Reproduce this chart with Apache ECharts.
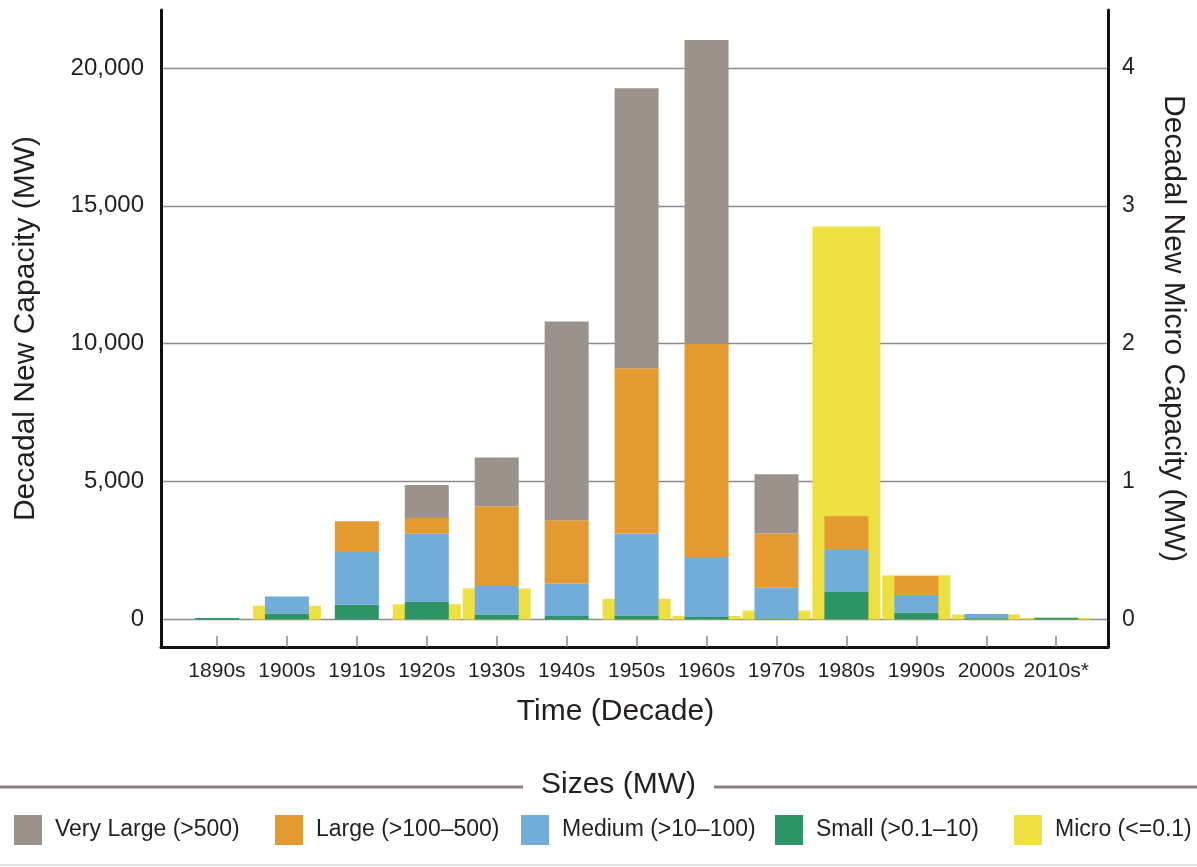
<!DOCTYPE html>
<html>
<head>
<meta charset="utf-8">
<script src="https://cdn.jsdelivr.net/npm/echarts@6/dist/echarts.min.js"></script>
<style>
html,body{margin:0;padding:0;background:#fff;}
#chart{width:1197px;height:867px;}
</style>
</head>
<body>
<div id="chart"></div>
<script>
const categories = ['1890s','1900s','1910s','1920s','1930s','1940s','1950s','1960s','1970s','1980s','1990s','2000s','2010s*'];
const veryLarge = [0, 0, 0, 1200, 1770, 7205, 10150, 11020, 2155, 0, 0, 0, 0];
const large     = [0, 0, 1115, 566, 2895, 2300, 5995, 7730, 1960, 1200, 676, 0, 0];
const medium    = [0, 630, 1915, 2460, 1040, 1177, 2980, 2178, 1122, 1551, 654, 153, 0];
const small     = [55, 205, 530, 650, 170, 120, 135, 85, 30, 990, 243, 40, 60];
const micro     = [0, 0.10, 0, 0.11, 0.225, 0, 0.15, 0.025, 0.065, 2.85, 0.32, 0.035, 0.01];
const leftTicks = [0, 5000, 10000, 15000, 20000];
const rightTicks = [0, 1, 2, 3, 4];
const seriesNames = ['Very Large (>500)', 'Large (>100–500)', 'Medium (>10–100)', 'Small (>0.1–10)', 'Micro (<=0.1)'];
const colors = ['#9b928c', '#e39a31', '#72acd8', '#2d9467', '#efe041'];

const idx = categories.map((c, i) => i);
// value first, category index second (encode maps x <- dim 1, y <- dim 0)
const toPairs = arr => arr.map((v, i) => [v, i]);

const chart = echarts.init(document.getElementById('chart'), null, {renderer: 'canvas'});
const textColor = '#231f20';
const baseFont = "'Liberation Sans', Arial, Helvetica, sans-serif";
const narrowFont = "'Liberation Sans Narrow', 'Arial Narrow', 'Liberation Sans', Arial, sans-serif";

const legendLefts = [9, 270, 516, 770, 1009];

const barSeries = (name, color, values, extra) => Object.assign({
  name, type: 'bar', xAxisIndex: 0, yAxisIndex: 0, barWidth: 44, z: 3,
  encode: {x: 1, y: 0},
  itemStyle: {color}, data: toPairs(values)
}, extra || {});

const option = {
  backgroundColor: '#ffffff',
  animation: false,
  textStyle: {fontFamily: baseFont, color: textColor},
  grid: {left: 161, right: 89, top: 10, bottom: 220, containLabel: false},
  xAxis: [
    {
      type: 'value', min: -0.8, max: 12.74, position: 'bottom',
      axisLine: {show: true, onZero: false, lineStyle: {color: '#111', width: 3}},
      axisTick: {show: true, inside: true, length: 11, customValues: idx, lineStyle: {color: '#8a8a8a', width: 1.5}},
      axisLabel: {show: true, customValues: idx, formatter: v => categories[Math.round(v)], fontSize: 21, color: textColor, margin: 14, fontFamily: baseFont},
      splitLine: {show: false},
      name: 'Time (Decade)', nameLocation: 'middle', nameGap: 50,
      nameTextStyle: {fontSize: 30, color: textColor, fontFamily: baseFont, padding: [0, 38, 0, 0]}
    },
    {
      type: 'value', min: -0.8, max: 12.74, show: false
    }
  ],
  yAxis: [
    {
      type: 'value', min: -1000, max: 22100, position: 'left',
      axisLine: {show: true, onZero: false, lineStyle: {color: '#111', width: 3}},
      axisTick: {show: false, customValues: leftTicks},
      axisLabel: {customValues: leftTicks, formatter: v => v.toLocaleString('en-US'), fontSize: 24, color: textColor, margin: 17, fontFamily: baseFont},
      splitLine: {show: true, lineStyle: {color: '#8c8c8c', width: 1.3}},
      name: 'Decadal New Capacity (MW)', nameLocation: 'middle', nameGap: 120,
      nameTextStyle: {fontSize: 30, color: textColor, fontFamily: baseFont}
    },
    {
      type: 'value', min: -0.2, max: 4.42, position: 'right',
      axisLine: {show: true, onZero: false, lineStyle: {color: '#111', width: 3}},
      axisTick: {show: false, customValues: rightTicks},
      axisLabel: {customValues: rightTicks, fontSize: 23, color: textColor, margin: 14, fontFamily: baseFont, padding: [0, 0, 12, 0]},
      splitLine: {show: false},
      name: 'Decadal New Micro Capacity (MW)', nameLocation: 'middle', nameGap: 50, nameRotate: -90,
      nameTextStyle: {fontSize: 30, color: textColor, fontFamily: baseFont}
    }
  ],
  legend: seriesNames.map((n, i) => ({
    data: [n], left: legendLefts[i], top: 810, orient: 'horizontal',
    icon: 'rect', itemWidth: 28, itemHeight: 30, selectedMode: false,
    textStyle: {fontSize: 23, color: textColor, fontFamily: narrowFont, padding: [0, 0, 0, 8]}
  })),
  graphic: [
    {type: 'line', shape: {x1: 0, y1: 787, x2: 523, y2: 787}, style: {stroke: '#8a8480', lineWidth: 3}},
    {type: 'line', shape: {x1: 714, y1: 787, x2: 1197, y2: 787}, style: {stroke: '#8a8480', lineWidth: 3}},
    {type: 'text', left: 541, top: 770, style: {text: 'Sizes (MW)', fontSize: 30, fill: textColor, fontFamily: baseFont}},
    {type: 'line', shape: {x1: 0, y1: 865, x2: 1197, y2: 865}, style: {stroke: '#e2e2e2', lineWidth: 2}}
  ],
  series: [
    barSeries(seriesNames[4], colors[4], micro, {xAxisIndex: 1, yAxisIndex: 1, barWidth: 68, z: 1}),
    barSeries(seriesNames[3], colors[3], small, {stack: 'size'}),
    barSeries(seriesNames[2], colors[2], medium, {stack: 'size'}),
    barSeries(seriesNames[1], colors[1], large, {stack: 'size'}),
    barSeries(seriesNames[0], colors[0], veryLarge, {stack: 'size'})
  ]
};
chart.setOption(option);
</script>
</body>
</html>
